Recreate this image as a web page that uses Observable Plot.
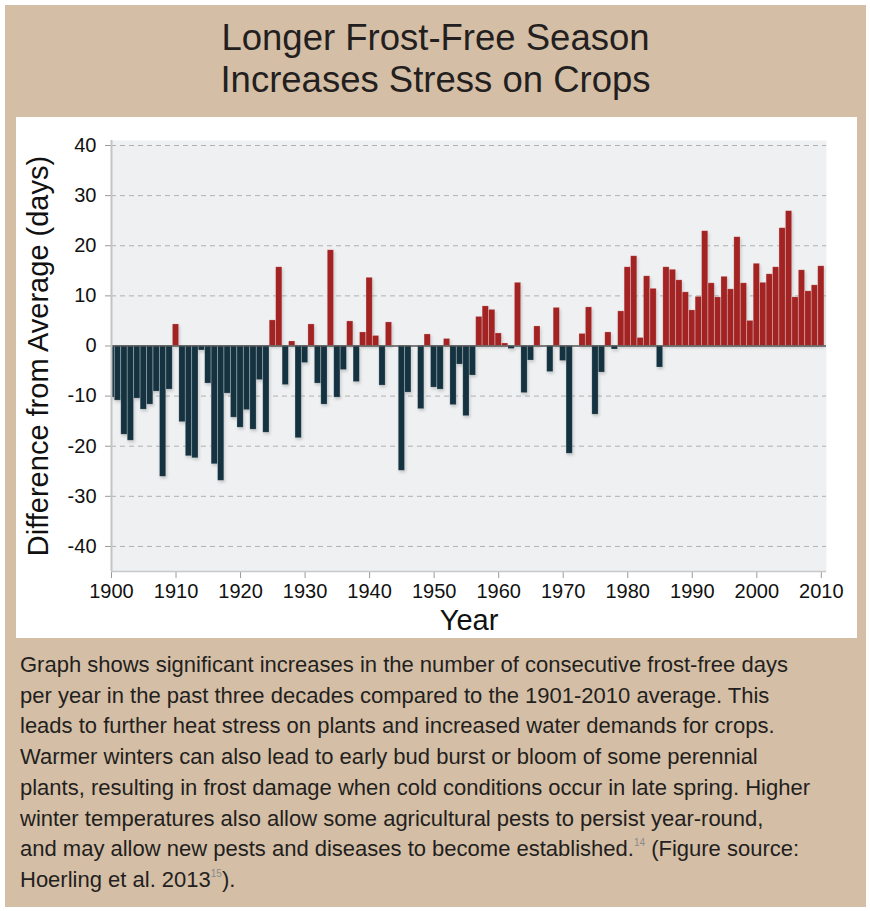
<!DOCTYPE html>
<html>
<head>
<meta charset="utf-8">
<script src="https://cdn.jsdelivr.net/npm/d3@7"></script>
<script src="https://cdn.jsdelivr.net/npm/@observablehq/plot@0.6"></script>
<style>
  body { margin: 0; background: #fff; }
  #panel { position: absolute; left: 5px; top: 5px; width: 861px; height: 902px; background: #d4bea5; }
  #title { position: absolute; left: 0; top: 12px; width: 100%; text-align: center;
           font-family: "Liberation Sans", Arial, sans-serif; font-size: 36.5px; line-height: 42px; color: #231f20; }
  #chart { position: absolute; left: 11px; top: 112px; width: 841px; height: 521px; background: #fff; }
  #caption { position: absolute; left: 15px; top: 645px; width: 845px; white-space: nowrap;
             font-family: "Liberation Sans", Arial, sans-serif; font-size: 22px; line-height: 30.7px; color: #231f20; letter-spacing: 0px; }
  #caption sup { font-size: 10px; color: #8a8a8a; vertical-align: 10px; line-height: 0; }
</style>
</head>
<body>
<div id="panel">
  <div id="title">Longer Frost-Free Season<br>Increases Stress on Crops</div>
  <div id="chart"></div>
  <div id="caption">Graph shows significant increases in the number of consecutive frost-free days<br>per year in the past three decades compared to the 1901-2010 average. This<br>leads to further heat stress on plants and increased water demands for crops.<br>Warmer winters can also lead to early bud burst or bloom of some perennial<br>plants, resulting in frost damage when cold conditions occur in late spring. Higher<br>winter temperatures also allow some agricultural pests to persist year-round,<br>and may allow new pests and diseases to become established.<sup>14</sup> (Figure source:<br>Hoerling et al. 2013<sup>15</sup>).</div>
</div>
<script>
const startYear = 1900;
const frostDays = [
  -10.3, -10.9, -17.7, -18.9, -10.5, -12.7, -11.7, -9.1, -26.1, -8.7,
  4.3, -15.2, -22.0, -22.4, -0.9, -7.5, -23.6, -26.9, -9.5, -14.3,
  -16.3, -12.8, -16.7, -6.8, -17.3, 5.1, 15.7, -7.8, 0.9, -18.4,
  -3.4, 4.3, -7.5, -11.7, 19.1, -10.3, -4.8, 4.9, -7.2, 2.7,
  13.6, 2.0, -7.9, 4.7, 0, -24.9, -9.3, 0, -12.6, 2.3,
  -8.3, -8.7, 1.4, -11.8, -3.7, -14.0, -5.9, 5.8, 7.9, 7.2,
  2.5, 0.5, -0.6, 12.6, -9.4, -2.9, 3.9, 0, -5.2, 7.6,
  -3.0, -21.5, 0, 2.4, 7.7, -13.7, -5.3, 2.7, -0.7, 6.9,
  15.7, 17.9, 1.6, 13.9, 11.4, -4.3, 15.7, 15.2, 13.1, 10.7,
  7.1, 9.8, 22.9, 12.5, 9.7, 13.8, 11.3, 21.7, 12.5, 5.0,
  16.4, 12.6, 14.3, 15.7, 23.5, 26.9, 9.7, 15.1, 10.9, 12.1,
  15.9
];
const yearTicks = [1900, 1910, 1920, 1930, 1940, 1950, 1960, 1970, 1980, 1990, 2000, 2010];
const dayTicks = [-40, -30, -20, -10, 0, 10, 20, 30, 40];
const yTitle = "Difference from Average (days)";
const xTitle = "Year";
const warmColor = "#a32222";
const coldColor = "#14323f";

const data = frostDays.map((v, i) => ({year: startYear + i, value: v}));

const chart = Plot.plot({
  width: 841,
  height: 521,
  marginLeft: 95,
  marginRight: 31,
  marginTop: 23,
  marginBottom: 67,
  style: {fontFamily: "'Liberation Sans', Arial, sans-serif", fontSize: "20px", color: "#111", background: "transparent", overflow: "visible"},
  x: {domain: [1900, 2010.8], ticks: yearTicks, tickFormat: d => String(d), tickSize: 7, tickPadding: 5, label: null},
  y: {domain: [-45, 41], ticks: dayTicks, tickFormat: d => String(d), tickSize: 6, tickPadding: 9, label: null},
  marks: [
    Plot.frame({fill: "#eff0f2", stroke: null}),
    Plot.ruleY(dayTicks.filter(d => d !== 0), {stroke: "#b0b0b0", strokeDasharray: "5,4", strokeWidth: 1}),
    Plot.rect(data.filter(d => d.value < 0), {x1: d => d.year - 0.48, x2: d => d.year + 0.48, y1: 0, y2: "value", fill: coldColor, stroke: "#ffffff", strokeOpacity: 0.25, strokeWidth: 0.7, clip: true}),
    Plot.rect(data.filter(d => d.value >= 0), {x1: d => d.year - 0.48, x2: d => d.year + 0.48, y1: 0, y2: "value", fill: warmColor, stroke: "#ffffff", strokeOpacity: 0.3, strokeWidth: 0.7, clip: true}),
    Plot.ruleY([0], {stroke: "#555", strokeWidth: 1.5}),
    Plot.ruleX([1900], {stroke: "#c4c4c4", strokeWidth: 2}),
    Plot.ruleY([-45], {stroke: "#c8c8c8", strokeWidth: 1.5}),
    Plot.text([xTitle], {text: d => d, frameAnchor: "bottom", dy: 49, lineAnchor: "middle", fontSize: 29, fill: "#111"}),
    Plot.text([yTitle], {text: d => d, frameAnchor: "left", dx: -73, textAnchor: "middle", lineAnchor: "middle", rotate: -90, fontSize: 29, fill: "#111"})
  ]
});

document.getElementById("chart").appendChild(chart);

// gray tick marks, black labels
chart.querySelectorAll('g[aria-label$="tick"] path, g[aria-label$="axis"] line').forEach(el => {
  el.setAttribute("stroke", "#9a9a9a");
});
// subtle shadow under bars
chart.querySelectorAll('g[aria-label="rect"]').forEach(g => {
  g.style.filter = "drop-shadow(1.5px 2px 1.5px rgba(0,0,0,0.18))";
});
</script>
</body>
</html>
